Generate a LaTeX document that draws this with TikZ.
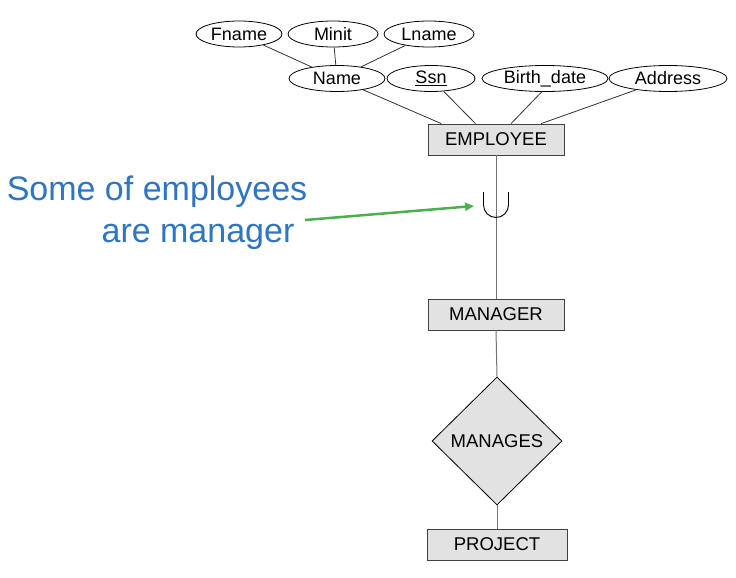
\documentclass[tikz,border=0pt]{standalone}
\usepackage{fontspec}
\setmainfont{Liberation Sans}
\usetikzlibrary{shapes.geometric,arrows.meta,calc}
\definecolor{noteblue}{RGB}{46,117,196}
\definecolor{arrowgreen}{RGB}{76,175,80}
\definecolor{boxfill}{RGB}{226,226,226}
\begin{document}
\begin{tikzpicture}[x=1pt,y=-1pt,
  attr/.style={draw=black,ellipse,fill=white,inner sep=0pt,minimum height=26pt,font=\fontsize{18}{20}\selectfont,line width=0.8pt},
  entity/.style={draw=black!75,fill=boxfill,rectangle,inner sep=0pt,minimum height=31pt,font=\fontsize{18.5}{20}\selectfont,line width=0.8pt},
  rel/.style={draw=black,fill=boxfill,diamond,inner sep=0pt,minimum width=130pt,minimum height=128pt,font=\fontsize{18.5}{20}\selectfont,line width=0.8pt},
  link/.style={draw=black!80,line width=0.8pt},
  vlink/.style={draw=black!55,line width=1pt},
  note/.style={text=noteblue,font=\fontsize{34}{38}\selectfont,inner sep=0pt}]
\useasboundingbox[fill=white] (0,0) rectangle (736,578);

\node[entity,minimum width=136pt] (emp) at (496,139.5) {EMPLOYEE};
\node[entity,minimum width=136pt] (mgr) at (496,314.5) {MANAGER};
\node[rel] (manages) at (497,441) {MANAGES};
\node[entity,minimum width=140pt] (proj) at (497,544.5) {PROJECT};

% attributes
\node[attr,minimum width=86pt] (fname) at (239,34) {Fname};
\node[attr,minimum width=90pt] (minit) at (333,34) {Minit};
\node[attr,minimum width=90pt] (lname) at (429,34) {Lname};
\node[attr,minimum width=96pt] (name) at (337,78.5) {Name};
\node[attr,minimum width=88pt] (ssn) at (431,78.5) {\underline{Ssn}};
\node[attr,minimum width=126pt] (bdate) at (545,78.5) {Birth\_date};
\node[attr,minimum width=118pt] (addr) at (668,78.5) {Address};

% connection points on EMPLOYEE top edge
\coordinate (e1) at ($(emp.north west)!0.10!(emp.north east)$);
\coordinate (e2) at ($(emp.north west)!0.35!(emp.north east)$);
\coordinate (e3) at ($(emp.north west)!0.61!(emp.north east)$);
\coordinate (e4) at ($(emp.north west)!0.83!(emp.north east)$);

\draw[link] (fname) -- (name);
\draw[link] (minit) -- (name);
\draw[link] (lname) -- (name);
\draw[link] (name) -- (e1);
\draw[link] (ssn) -- (e2);
\draw[link] (bdate.256) -- (e3);
\draw[link] (addr) -- (e4);

% vertical lines
\draw[vlink] (emp.south) -- (mgr.north);
\draw[vlink] (mgr.south) -- (manages.north);
\draw[vlink] (manages.south) -- (proj.north);

% subset (union) symbol, open at the top
\coordinate (ucenter) at (496,205);
\draw[black,line width=0.9pt] ($(ucenter)+(-12.5,-13)$) -- ($(ucenter)+(-12.5,0)$)
  arc[start angle=180,end angle=0,radius=12.5] -- ($(ucenter)+(12.5,-13)$);

% note
\node[note] (note1) at (157,192) {Some of employees};
\node[note] (note2) at (198,237) {are manager};
\coordinate (astart) at (305,220);
\coordinate (aend) at (474,206);
\draw[arrowgreen,line width=2.5pt,-{Triangle[length=9pt,width=8pt]}] (astart) -- (aend);
\end{tikzpicture}
\end{document}
